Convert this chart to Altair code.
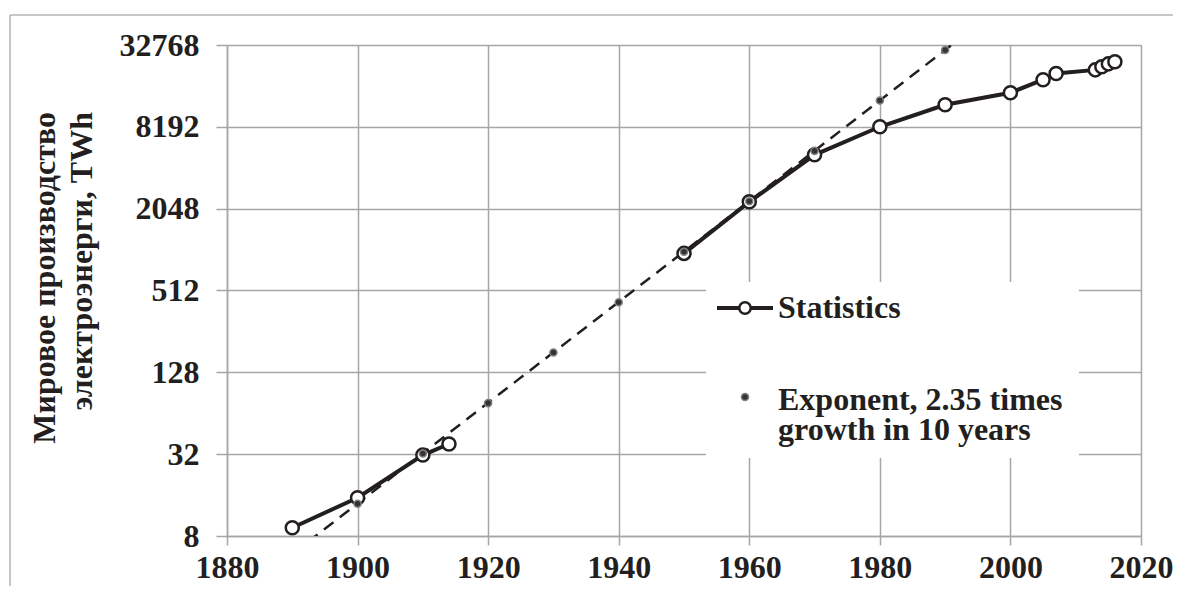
import altair as alt
import pandas as pd

# ---- data ----
stat_years = [1890, 1900, 1910, 1914, 1950, 1960, 1970, 1980, 1990, 2000, 2005, 2007, 2013, 2014, 2015, 2016]
stat_twh = [9.2, 15.3, 31.5, 38, 960, 2300, 5100, 8200, 11900, 14600, 18200, 20200, 21500, 22700, 23800, 24700]
stat_period = ["early"] * 4 + ["late"] * 12

exp_years = [1900, 1910, 1920, 1930, 1940, 1950, 1960, 1970, 1980, 1990]
exp_twh = [13.8, 32.4, 76, 179, 420, 987, 2320, 5450, 12800, 30100]

trend_years = [1890, 2000]
trend_twh = [5.9, 70700]

x_ticks = [1880, 1900, 1920, 1940, 1960, 1980, 2000, 2020]
y_ticks = [8, 32, 128, 512, 2048, 8192, 32768]

y_title = ["Мировое производство", "электроэнерги, TWh"]
legend_stat = "Statistics"
legend_exp = ["Exponent, 2.35 times", "growth in 10 years"]

stat_df = pd.DataFrame({"year": stat_years, "twh": stat_twh, "period": stat_period})
exp_df = pd.DataFrame({"year": exp_years, "twh": exp_twh})
trend_df = pd.DataFrame({"year": trend_years, "twh": trend_twh})
one = pd.DataFrame({"k": [0]})

FONT = "Liberation Serif"
INK = "#231f20"
GRID = "#a6a6a6"

xs = alt.Scale(domain=[1880, 2020], nice=False, zero=False)
ys = alt.Scale(type="log", base=2, domain=[8, 32768], nice=False)

x_axis = alt.Axis(values=x_ticks, format="d", title=None, labelFont=FONT, labelFontSize=32,
                  labelFontWeight="bold", labelColor=INK, tickColor=GRID, tickSize=9, tickWidth=1.5,
                  domainColor=GRID, domainWidth=1.5, gridColor=GRID, gridWidth=1.5, grid=True,
                  labelPadding=7, labelFlush=False, labelOverlap=False)
y_axis = alt.Axis(values=y_ticks, format="d", title=None, labelFont=FONT, labelFontSize=32,
                  labelFontWeight="bold", labelColor=INK, tickColor=GRID, tickSize=11, tickWidth=1.5,
                  domainColor=GRID, domainWidth=1.5, gridColor=GRID, gridWidth=1.5, grid=True,
                  labelPadding=17, labelOverlap=False)

X = alt.X("year:Q", scale=xs, axis=x_axis)
Y = alt.Y("twh:Q", scale=ys, axis=y_axis)

frame_top = alt.Chart(one).mark_rule(color="#b4b4b4", strokeWidth=1.5).encode(
    x=alt.value(-217), x2=alt.value(960), y=alt.value(-30))
frame_left = alt.Chart(one).mark_rule(color="#b4b4b4", strokeWidth=1.5).encode(
    x=alt.value(-217), y=alt.value(-30), y2=alt.value(600))

trend = alt.Chart(trend_df).mark_line(color=INK, strokeWidth=2.5, strokeDash=[12, 8], clip=True).encode(
    x=X, y=Y)

stat_line = alt.Chart(stat_df).mark_line(color=INK, strokeWidth=4).encode(
    x=X, y=Y, detail="period:N")
stat_pts = alt.Chart(stat_df).mark_point(shape="circle", filled=False, fill="white", fillOpacity=1,
                                         stroke=INK, strokeWidth=2.5, size=170, opacity=1).encode(x=X, y=Y)
exp_pts = alt.Chart(exp_df).mark_point(shape="circle", filled=True, fill="#333333", stroke="#808080",
                                       strokeWidth=1.5, size=50, opacity=1).encode(x=X, y=Y)

# ---- legend (drawn by hand) ----
leg_box = alt.Chart(one).mark_rect(color="white").encode(
    x=alt.value(479), x2=alt.value(852), y=alt.value(237), y2=alt.value(413))
leg_line = alt.Chart(one).mark_rule(color=INK, strokeWidth=4).encode(
    x=alt.value(490), x2=alt.value(546), y=alt.value(263))
leg_circle = alt.Chart(one).mark_point(shape="circle", filled=False, fill="white", fillOpacity=1,
                                       stroke=INK, strokeWidth=2.5, size=130, opacity=1).encode(
    x=alt.value(518), y=alt.value(263))
leg_text1 = alt.Chart(one).mark_text(font=FONT, fontSize=32, fontWeight="bold", color=INK,
                                     align="left", baseline="alphabetic").encode(
    x=alt.value(551), y=alt.value(273), text=alt.value(legend_stat))
leg_dot = alt.Chart(one).mark_point(shape="circle", filled=True, fill="#333333", stroke="#808080",
                                    strokeWidth=1.5, size=50, opacity=1).encode(
    x=alt.value(518), y=alt.value(352))
leg_text2 = alt.Chart(one).mark_text(font=FONT, fontSize=32, fontWeight="bold", color=INK,
                                     align="left", baseline="alphabetic", lineHeight=30).encode(
    x=alt.value(551), y=alt.value(365), text=alt.value(legend_exp))

# ---- y title ----
title1 = alt.Chart(one).mark_text(font=FONT, fontSize=32, fontWeight="bold", color=INK,
                                  align="right", baseline="alphabetic", angle=270).encode(
    x=alt.value(-172), y=alt.value(67), text=alt.value(y_title[0]))
title2 = alt.Chart(one).mark_text(font=FONT, fontSize=32, fontWeight="bold", color=INK,
                                  align="right", baseline="alphabetic", angle=270).encode(
    x=alt.value(-135), y=alt.value(67), text=alt.value(y_title[1]))

chart = alt.layer(
    frame_top, frame_left, trend, stat_line, stat_pts, exp_pts,
    leg_box, leg_line, leg_circle, leg_text1, leg_dot, leg_text2, title1, title2
).properties(
    width=914, height=491,
    autosize=alt.AutoSizeParams(type="none"),
    padding={"left": 219, "top": 37, "right": 32, "bottom": 50},
    background="white",
).configure_view(stroke=None)

chart.save("out.html", embed_options={"renderer": "svg", "actions": False})
